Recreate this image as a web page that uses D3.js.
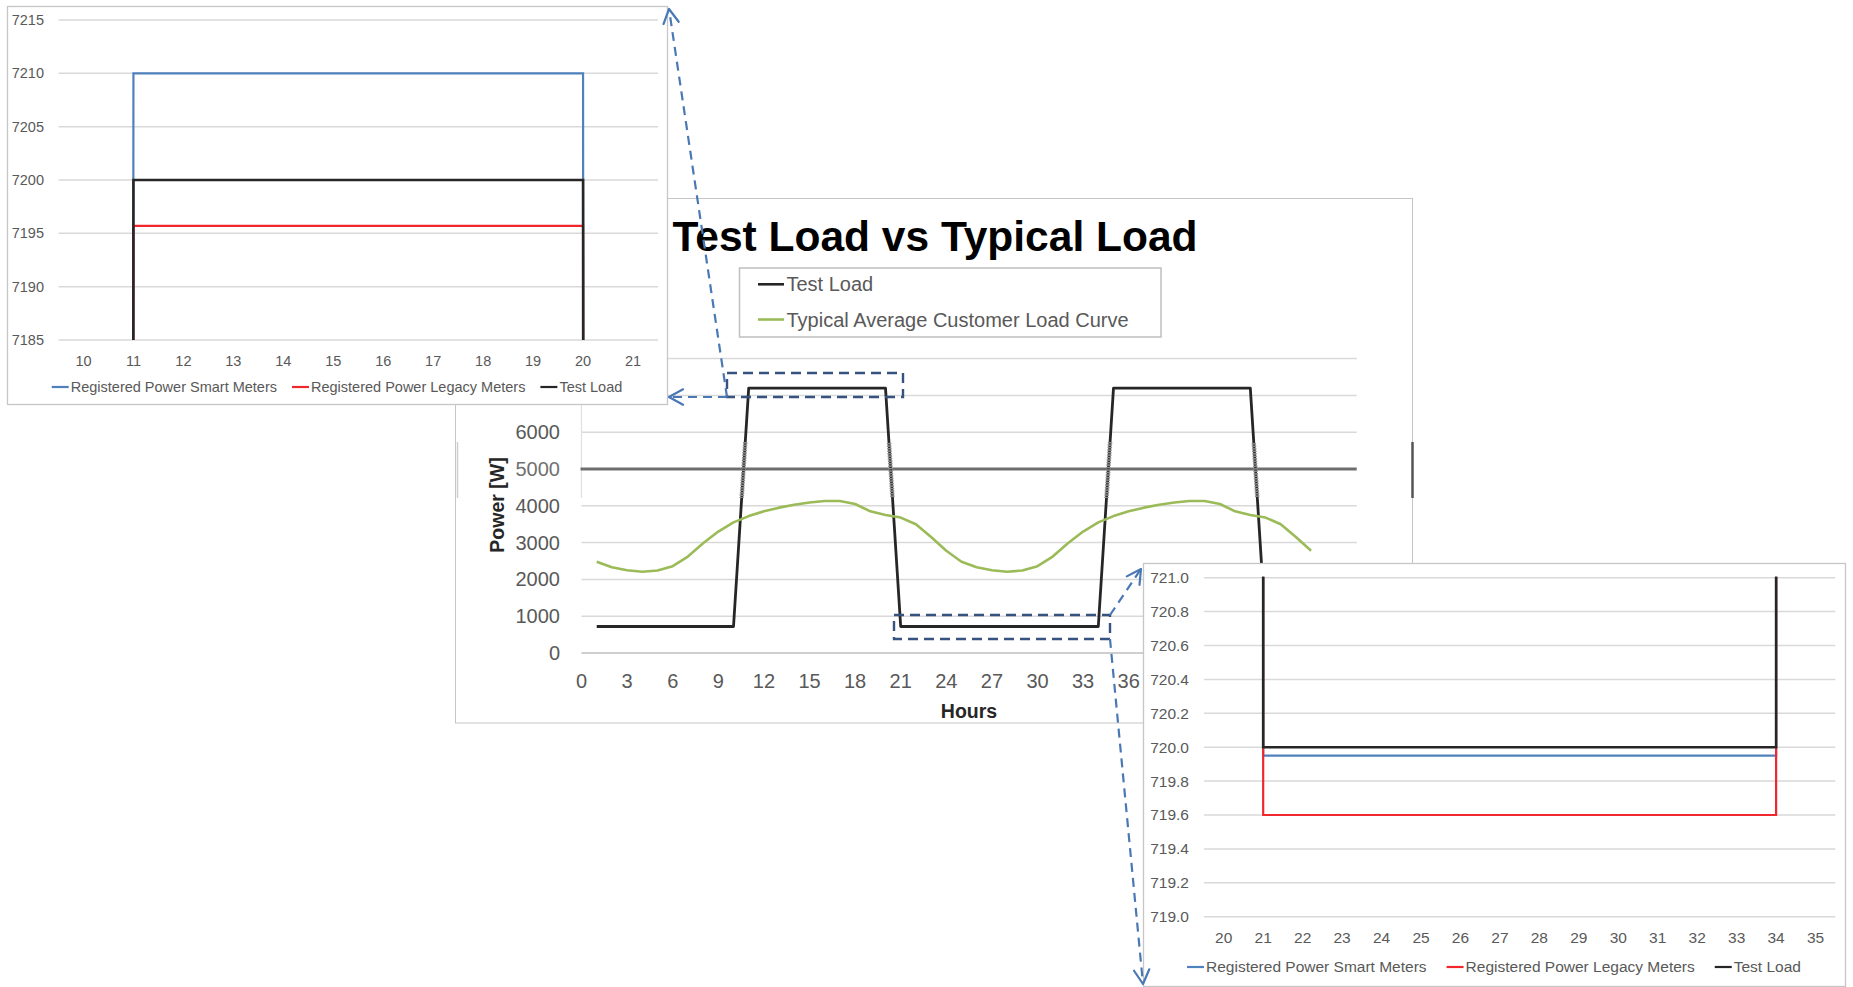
<!DOCTYPE html>
<html><head><meta charset="utf-8">
<script src="https://cdn.jsdelivr.net/npm/d3@7"></script>
<style>
body{margin:0;background:#fff}
svg{display:block}
text{font-family:"Liberation Sans",Arial,Helvetica,sans-serif}
</style></head>
<body>
<svg id="c" width="1853" height="987"></svg>
<script>
// ---------------- DATA ----------------
// Main chart: Test Load vs Typical Load (hourly, 2 days)
const mainHours = [1,2,3,4,5,6,7,8,9,10,11,12,13,14,15,16,17,18,19,20,21,22,23,24,
                   25,26,27,28,29,30,31,32,33,34,35,36,37,38,39,40,41,42,43,44,45,46,47,48];
const mainTestLoad = [720,720,720,720,720,720,720,720,720,720,
                      7200,7200,7200,7200,7200,7200,7200,7200,7200,7200,
                      720,720,720,720,720,720,720,720,720,720,720,720,720,720,
                      7200,7200,7200,7200,7200,7200,7200,7200,7200,7200,
                      720,720,720,720];
const mainTypical = [2480,2330,2250,2210,2240,2360,2620,2980,3300,3550,3720,3850,
                     3950,4030,4090,4130,4130,4050,3850,3750,3680,3500,3150,2780,
                     2480,2330,2250,2210,2240,2360,2620,2980,3300,3550,3720,3850,
                     3950,4030,4090,4130,4130,4050,3850,3750,3680,3500,3150,2780];
const mainGridValues = [0,1000,2000,3000,4000,5000,6000,7000,8000];
// tick labels that are visible (the rest are hidden beneath the zoom insets)
const mainYTickLabels = [0,1000,2000,3000,4000,5000,6000];
const mainXTickLabels = [0,3,6,9,12,15,18,21,24,27,30,33,36];
const mainSeriesNames = ["Test Load","Typical Average Customer Load Curve"];

// Inset A: zoom on the high level (hours 10-21)
const insetACats   = [10,11,12,13,14,15,16,17,18,19,20,21];
const insetASmart  = [720,7210,7210,7210,7210,7210,7210,7210,7210,7210,7210,720];
const insetALegacy = [719.6,7195.7,7195.7,7195.7,7195.7,7195.7,7195.7,7195.7,7195.7,7195.7,7195.7,719.6];
const insetATest   = [720,7200,7200,7200,7200,7200,7200,7200,7200,7200,7200,720];
const insetAYTicks = [7185,7190,7195,7200,7205,7210,7215];

// Inset C: zoom on the low level (hours 20-35)
const insetCCats   = [20,21,22,23,24,25,26,27,28,29,30,31,32,33,34,35];
const insetCSmart  = [7210,719.95,719.95,719.95,719.95,719.95,719.95,719.95,719.95,719.95,719.95,719.95,719.95,719.95,719.95,7210];
const insetCLegacy = [7195.7,719.6,719.6,719.6,719.6,719.6,719.6,719.6,719.6,719.6,719.6,719.6,719.6,719.6,719.6,7195.7];
const insetCTest   = [7200,720,720,720,720,720,720,720,720,720,720,720,720,720,720,7200];
const insetCYTicks = [719.0,719.2,719.4,719.6,719.8,720.0,720.2,720.4,720.6,720.8,721.0];

const insetNames = ["Registered Power Smart Meters","Registered Power Legacy Meters","Test Load"];
const insetColors = ["#4f81bd","#f0282d","#262626"];

// ---------------- DRAWING ----------------
const svg = d3.select("#c");
const defs = svg.append("defs");
const GRID = "#d9d9d9", LABEL = "#595959", BORDER = "#c6c6c6";

function legend(g, items, cx, y, fontSize, sample, gap) {
  const lg = g.append("g");
  let x = 0;
  const parts = [];
  items.forEach(it => {
    const ig = lg.append("g");
    ig.append("line").attr("x1", 0).attr("x2", sample).attr("y1", 0).attr("y2", 0)
      .attr("stroke", it.color).attr("stroke-width", 2.2);
    const t = ig.append("text").attr("x", sample + 2).attr("y", 0).attr("dy", "0.35em")
      .attr("font-size", fontSize).attr("fill", LABEL).text(it.name);
    const w = sample + 2 + t.node().getComputedTextLength();
    parts.push({ig, x, w});
    x += w + gap;
  });
  const total = x - gap;
  parts.forEach(p => p.ig.attr("transform", `translate(${cx - total/2 + p.x},${y})`));
}

// ===== MAIN CHART =====
const M = svg.append("g");
M.append("rect").attr("x", 455.5).attr("y", 198.5).attr("width", 957).attr("height", 524.5)
  .attr("fill", "#fff").attr("stroke", BORDER);

const x = d3.scaleLinear().domain([0, 51]).range([581.5, 1356.7]);
const y = d3.scaleLinear().domain([0, 8000]).range([653, 358.6]);

// gridlines
M.append("g").selectAll("line").data(mainGridValues).join("line")
  .attr("x1", x(0)).attr("x2", x(51)).attr("y1", d => y(d)).attr("y2", d => y(d))
  .attr("stroke", d => d === 0 ? "#bfbfbf" : GRID).attr("stroke-width", 1.5);
// faint left edge
M.append("line").attr("x1", x(0)).attr("x2", x(0)).attr("y1", y(8000)).attr("y2", 498)
  .attr("stroke", "#e0e0e0").attr("stroke-width", 1.2);
// highlighted 5000 line
M.append("line").attr("x1", x(0) - 1).attr("x2", x(51)).attr("y1", y(5000)).attr("y2", y(5000))
  .attr("stroke", "#6e6e6e").attr("stroke-width", 3);

// y tick labels
M.append("g").selectAll("text").data(mainYTickLabels).join("text")
  .attr("x", 560).attr("y", d => y(d)).attr("dy", "0.35em").attr("text-anchor", "end")
  .attr("font-size", 20).attr("fill", d => d === 5000 ? "#707070" : LABEL).text(d => d);
// x tick labels
M.append("g").selectAll("text").data(mainXTickLabels).join("text")
  .attr("x", d => x(d)).attr("y", 681).attr("dy", "0.35em").attr("text-anchor", "middle")
  .attr("font-size", 20).attr("fill", LABEL).text(d => d);
// axis titles
M.append("text").attr("x", 969).attr("y", 711).attr("dy", "0.35em").attr("text-anchor", "middle")
  .attr("font-size", 19.5).attr("font-weight", "bold").attr("fill", "#262626").text("Hours");
M.append("text").attr("transform", "translate(497,505) rotate(-90)").attr("dy", "0.35em")
  .attr("text-anchor", "middle").attr("font-size", 19.5).attr("font-weight", "bold")
  .attr("fill", "#262626").text("Power [W]");
// title
M.append("text").attr("x", 935).attr("y", 251).attr("text-anchor", "middle")
  .attr("font-size", 42.5).attr("font-weight", "bold").attr("fill", "#000")
  .text("Test Load vs Typical Load");

// series
const lineMain = d3.line().x(d => x(d[0])).y(d => y(d[1]));
const testPts = mainHours.map((h, i) => [h, mainTestLoad[i]]);
const typPts = mainHours.map((h, i) => [h, mainTypical[i]]);
M.append("path").attr("d", lineMain(testPts)).attr("fill", "none")
  .attr("stroke", "#262626").attr("stroke-width", 2.8).attr("stroke-linejoin", "round");
M.append("path").attr("d", lineMain(typPts)).attr("fill", "none")
  .attr("stroke", "#9bbb59").attr("stroke-width", 2.6).attr("stroke-linejoin", "round");

// pasted strip artefact (y 442-498)
defs.append("clipPath").attr("id", "strip").append("rect")
  .attr("x", 581).attr("y", 442).attr("width", 776).attr("height", 56);
M.append("path").attr("d", lineMain(testPts)).attr("fill", "none").attr("clip-path", "url(#strip)")
  .attr("stroke", "#8c8c8c").attr("stroke-width", 4.5).attr("stroke-dasharray", "1.5 1");
M.append("line").attr("x1", 457.5).attr("x2", 457.5).attr("y1", 442).attr("y2", 498)
  .attr("stroke", "#cfcfcf").attr("stroke-width", 1.5);
M.append("line").attr("x1", 1412.5).attr("x2", 1412.5).attr("y1", 442).attr("y2", 498)
  .attr("stroke", "#555").attr("stroke-width", 2.5);

// legend
M.append("rect").attr("x", 739.5).attr("y", 268).attr("width", 421.5).attr("height", 69)
  .attr("fill", "#fff").attr("stroke", "#bfbfbf").attr("stroke-width", 1.5);
[["#262626", 284.3], ["#9bbb59", 319.5]].forEach((c, i) => {
  M.append("line").attr("x1", 758).attr("x2", 784).attr("y1", c[1]).attr("y2", c[1])
    .attr("stroke", c[0]).attr("stroke-width", 2.6);
  M.append("text").attr("x", 786.5).attr("y", c[1]).attr("dy", "0.35em").attr("font-size", 20)
    .attr("fill", LABEL).text(mainSeriesNames[i]);
});

// dashed zoom boxes
const BOXC = "#36527f";
M.append("rect").attr("x", 727).attr("y", 373).attr("width", 176).attr("height", 24)
  .attr("fill", "none").attr("stroke", BOXC).attr("stroke-width", 2.4).attr("stroke-dasharray", "10 6");
M.append("rect").attr("x", 894).attr("y", 615).attr("width", 216).attr("height", 24)
  .attr("fill", "none").attr("stroke", BOXC).attr("stroke-width", 2.4).attr("stroke-dasharray", "10 6");

// ===== generic inset =====
function inset(opts) {
  const g = svg.append("g");
  g.append("rect").attr("x", opts.box[0] + 0.5).attr("y", opts.box[1] + 0.5)
    .attr("width", opts.box[2] - opts.box[0]).attr("height", opts.box[3] - opts.box[1])
    .attr("fill", "#fff").attr("stroke", BORDER).attr("stroke-width", 1.3);
  const xs = d3.scaleLinear().domain([opts.cats[0] - 0.5, opts.cats[opts.cats.length - 1] + 0.5])
    .range([opts.plot[0], opts.plot[2]]);
  const ys = d3.scaleLinear().domain([opts.yTicks[0], opts.yTicks[opts.yTicks.length - 1]])
    .range([opts.plot[3], opts.plot[1]]);
  g.append("g").selectAll("line").data(opts.yTicks).join("line")
    .attr("x1", opts.plot[0]).attr("x2", opts.plot[2])
    .attr("y1", d => ys(d)).attr("y2", d => ys(d)).attr("stroke", GRID).attr("stroke-width", 1.5);
  g.append("g").selectAll("text").data(opts.yTicks).join("text")
    .attr("x", opts.yLabelX).attr("y", d => ys(d)).attr("dy", "0.35em").attr("text-anchor", "end")
    .attr("font-size", opts.fs).attr("fill", LABEL).text(d => opts.fmt(d));
  g.append("g").selectAll("text").data(opts.cats).join("text")
    .attr("x", d => xs(d)).attr("y", opts.xLabelY).attr("dy", "0.35em").attr("text-anchor", "middle")
    .attr("font-size", opts.fs).attr("fill", LABEL).text(d => d);
  const cid = "clip" + opts.id;
  defs.append("clipPath").attr("id", cid).append("rect")
    .attr("x", opts.plot[0]).attr("y", opts.plot[1] - 1)
    .attr("width", opts.plot[2] - opts.plot[0]).attr("height", opts.plot[3] - opts.plot[1] + 1);
  const ln = d3.line().x(d => xs(d[0])).y(d => ys(d[1]));
  opts.series.forEach((s, i) => {
    g.append("path").attr("clip-path", `url(#${cid})`)
      .attr("d", ln(opts.cats.map((c, k) => [c, s[k]])))
      .attr("fill", "none").attr("stroke", insetColors[i]).attr("stroke-width", i === 2 ? 2.6 : 2.2);
  });
  legend(g, insetNames.map((n, i) => ({name: n, color: insetColors[i]})),
         (opts.box[0] + opts.box[2]) / 2, opts.legendY, opts.fs, 17, opts.gap);
}

inset({id: "A", box: [7, 6, 667, 404], plot: [58.5, 20, 658, 340], cats: insetACats,
  yTicks: insetAYTicks, series: [insetASmart, insetALegacy, insetATest],
  yLabelX: 44, xLabelY: 361, legendY: 387, fs: 14.5, gap: 15, fmt: d => d});

inset({id: "C", box: [1143, 563, 1845, 986], plot: [1204, 577.7, 1835.3, 916.7], cats: insetCCats,
  yTicks: insetCYTicks, series: [insetCSmart, insetCLegacy, insetCTest],
  yLabelX: 1189, xLabelY: 938, legendY: 967, fs: 15.5, gap: 20, fmt: d3.format(".1f")});

// ===== dashed arrows =====
const ARC = "#4a78b4";
function arrow(x1, y1, x2, y2) {
  svg.append("line").attr("x1", x1).attr("y1", y1).attr("x2", x2).attr("y2", y2)
    .attr("stroke", ARC).attr("stroke-width", 2.2).attr("stroke-dasharray", "9 6");
  const a = Math.atan2(y2 - y1, x2 - x1), L = 16, s = 0.5;
  const p = [[x2 - L * Math.cos(a - s), y2 - L * Math.sin(a - s)], [x2, y2],
             [x2 - L * Math.cos(a + s), y2 - L * Math.sin(a + s)]];
  svg.append("polyline").attr("points", p.map(q => q.join(",")).join(" "))
    .attr("fill", "none").attr("stroke", ARC).attr("stroke-width", 2.2)
    .attr("stroke-linejoin", "round").attr("stroke-linecap", "round");
}
arrow(727, 397, 669, 9);
arrow(727, 397, 669, 397);
arrow(1110, 615, 1141, 569);
arrow(1110, 639, 1143, 984);
</script>
</body></html>
